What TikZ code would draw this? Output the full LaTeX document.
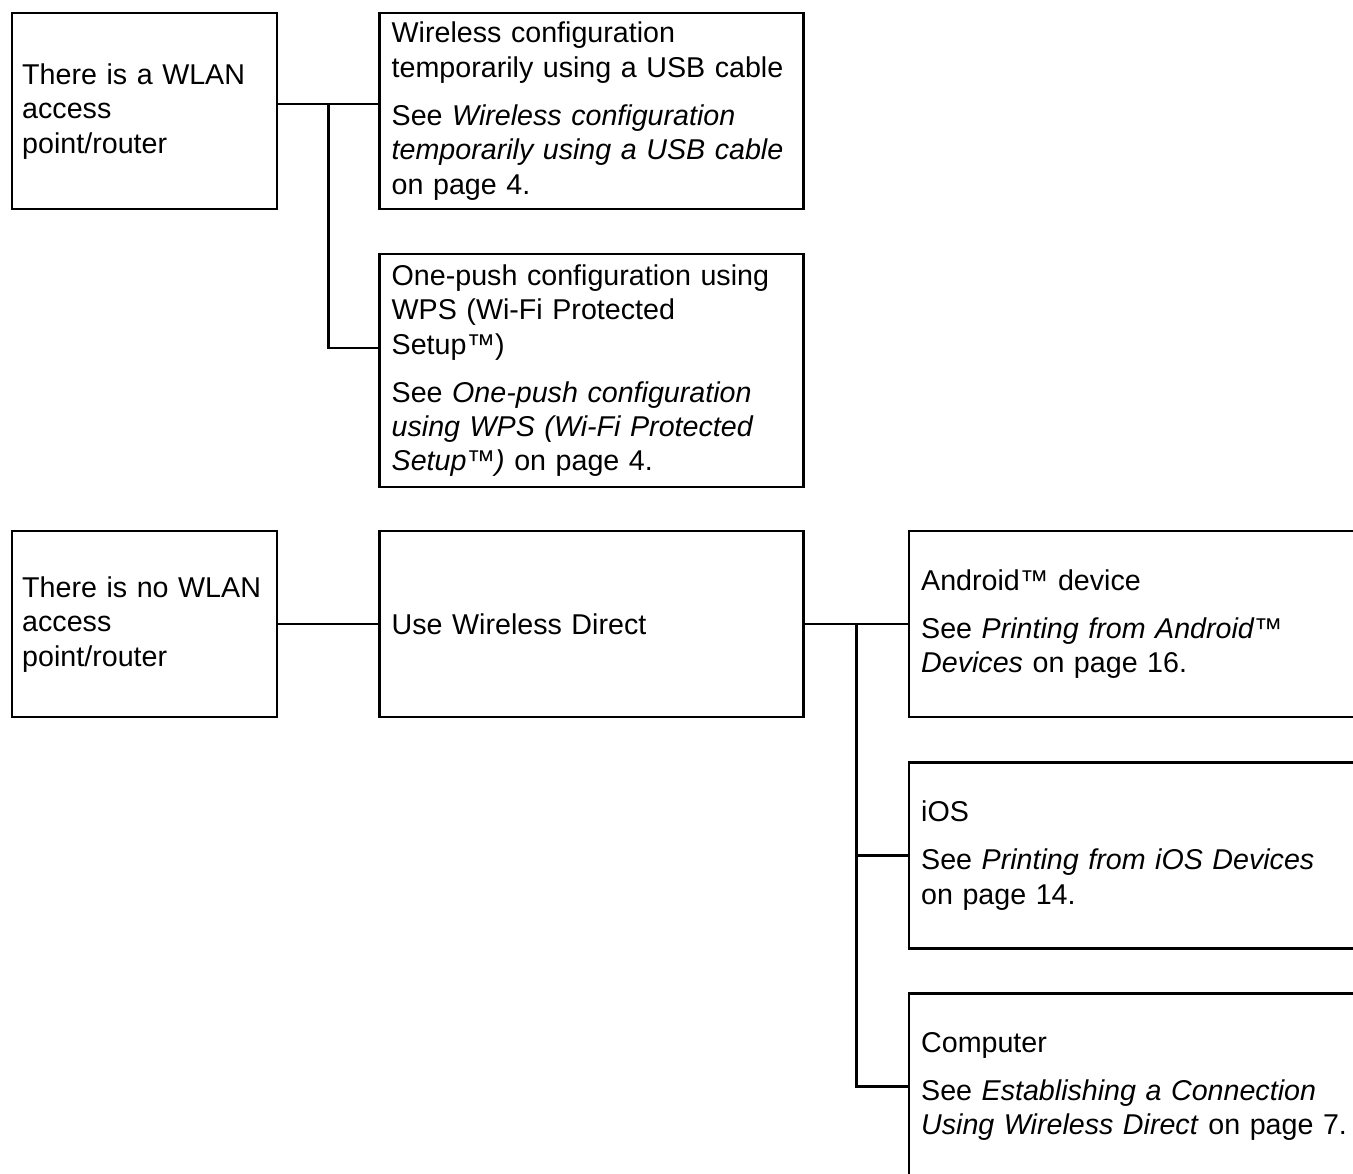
\documentclass[tikz,border=0pt]{standalone}
\usepackage{fontspec}
\setmainfont{Liberation Sans}
\usetikzlibrary{positioning,calc}
\newcommand\diagfont{\fontsize{16.3pt}{19.6pt}\selectfont}

\begin{document}
\begin{tikzpicture}[
    box/.style={rectangle, draw=black, line width=1.4pt, align=left, inner xsep=2.4mm, inner ysep=0pt, font=\diagfont},
    leftbox/.style={box, inner xsep=2.0mm, text width=4.9cm, minimum height=#1},
    midbox/.style={box, text width=8.0cm, minimum height=#1},
    endbox/.style={box, text width=9.0cm, minimum height=3.72cm},
    link/.style={line width=1.4pt, black},
]
    \useasboundingbox (0,0) rectangle (27.06,-23.46);
    \clip (0,0) rectangle (27.06,-23.46);

    % WLAN access point branch
    \node[leftbox=3.92cm, anchor=north west] (wlan) at (0.22,-0.24) {There is a WLAN\\access\\point/router};
    \node[midbox=3.92cm, right=2.0cm of wlan] (usb) {Wireless configuration\\temporarily using a USB cable\\[7.7pt]See \textit{Wireless configuration}\\\textit{temporarily using a USB cable}\\on page 4.};
    \node[midbox=4.66cm, below=0.85cm of usb] (wps) {One-push configuration using\\WPS (Wi-Fi Protected\\Setup™)\\[7.7pt]See \textit{One-push configuration}\\\textit{using WPS (Wi-Fi Protected}\\\textit{Setup™)} on page 4.};

    % no WLAN access point branch
    \node[leftbox=3.72cm, anchor=north west] (nowlan) at (0.22,-10.6) {There is no WLAN\\access\\point/router};
    \node[midbox=3.72cm, right=2.0cm of nowlan] (direct) {Use Wireless Direct};
    \node[endbox, right=2.06cm of direct] (android) {Android™ device\\[7.7pt]See \textit{Printing from Android™}\\\textit{Devices} on page 16.};
    \node[endbox, below=0.86cm of android] (ios) {iOS\\[7.7pt]See \textit{Printing from iOS Devices}\\on page 14.};
    \node[endbox, below=0.85cm of ios] (computer) {Computer\\[7.7pt]See \textit{Establishing a Connection}\\\textit{Using Wireless Direct} on page 7.};

    \draw[link] ([yshift=1.4mm]wlan.east) -- ([yshift=1.4mm]usb.west);
    \draw[link] ([yshift=1.4mm]$(wlan.east)!0.5!(usb.west)$) |- ([yshift=4.5mm]wps.west);
    \draw[link] (nowlan) -- (direct);
    \draw[link] (direct) -- (android);
    \draw[link] ($(direct.east)!0.5!(android.west)$) |- (ios.west);
    \draw[link] ($(direct.east)!0.5!(android.west)$) |- (computer.west);
\end{tikzpicture}
\end{document}
